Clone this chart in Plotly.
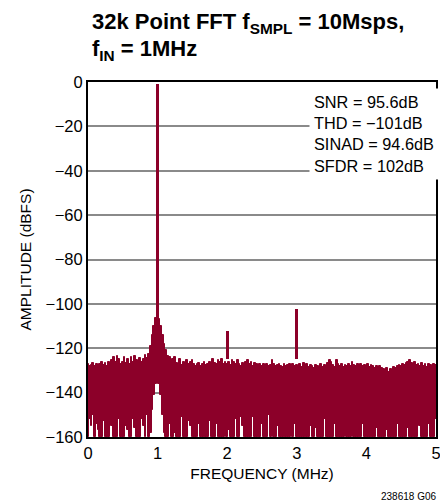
import plotly.graph_objects as go

# ---- data -------------------------------------------------------------
freq_step = 0.025  # MHz between noise bins
# upper envelope of the noise floor (dBFS), 0 .. 5 MHz every 0.025 MHz
noise_top = [
    -127, -128, -127.5, -126.5, -128, -127, -128.5, -127, -126, -127.5,
    -126.5, -128, -126, -127, -125.5, -124, -126, -123.5, -125, -127,
    -126, -124, -126.5, -125, -127, -124, -126, -123.5, -125.5, -126,
    -124.5, -126, -125, -123, -124.5, -122.5, -119, -114, -110, -106.5,
    -104.5,
    -107, -110, -114, -118, -121, -123.5, -124, -126, -125,
    -124, -126.5, -127, -125, -127.5, -126, -127, -125.5, -127, -126,
    -125.5, -127, -128, -127, -126.5, -128, -127, -126, -127.5, -127,
    -126, -127, -125, -126.5, -127, -125.5, -126, -125, -127, -126,
    -127, -126, -127.5, -125.5, -126, -127, -125.5, -127, -128, -126.5,
    -127, -126, -125.5, -127, -126, -128, -126.5, -127, -128, -127,
    -128, -127, -128.5, -127, -128, -127.5, -125.5, -127, -128, -127.5,
    -127, -128, -128.5, -127, -128, -127.5, -127, -128, -127, -128,
    -127.5, -128, -127, -128.5, -126.5, -128, -127, -128.5, -127.5, -128,
    -129, -127.5, -128, -129, -127, -128.5, -127.5, -128, -126.5, -125.5,
    -126, -127.5, -128.5, -125.5, -127, -128, -127, -128.5, -127.5, -128,
    -127, -128, -126, -127.5, -128, -127, -128.5, -127, -128, -127.5,
    -128, -127, -128.5, -127.5, -128, -129, -128, -129.5, -128, -129,
    -129.5, -130, -129, -130.5, -129.5, -130, -128.5, -129, -128, -127.5,
    -128, -127, -127.5, -126.5, -126, -125.5, -126.5, -127, -126, -127.5,
    -127, -128, -126.5, -128, -127, -128.5, -127, -127.5, -128, -127,
    -127.5,
]
# lower envelope of the noise floor (dBFS), same bins
noise_bottom = [
    -160, -152, -155, -150, -160, -154, -157, -160, -160, -153,
    -160, -160, -160, -151, -155, -160, -160, -160, -152, -160,
    -160, -160, -155, -157, -160, -160, -152, -156, -160, -160,
    -160, -152, -155, -160, -150, -160, -158, -148, -141, -136,
    -133,
    -136, -141, -150, -158, -160, -160, -154, -160, -160,
    -158, -160, -160, -160, -151, -160, -160, -160, -153, -155,
    -160, -160, -160, -160, -154, -160, -160, -160, -160, -160,
    -153, -160, -160, -160, -154, -160, -160, -160, -160, -153,
    -160, -157, -160, -160, -160, -152, -160, -160, -151, -155,
    -160, -160, -160, -160, -160, -151, -160, -160, -160, -160,
    -154, -160, -160, -160, -150, -160, -153, -160, -160, -155,
    -160, -160, -160, -160, -160, -160, -160, -154, -160, -154,
    -160, -160, -160, -160, -160, -160, -160, -160, -155, -160,
    -160, -156, -160, -160, -160, -160, -152, -160, -160, -160,
    -160, -160, -154, -160, -160, -160, -160, -160, -152, -160,
    -160, -160, -150, -160, -160, -160, -160, -160, -154, -160,
    -160, -160, -160, -160, -160, -160, -156, -160, -160, -160,
    -160, -160, -157, -160, -160, -160, -160, -160, -154, -160,
    -160, -160, -160, -160, -156, -160, -160, -160, -160, -160,
    -154, -155, -160, -160, -160, -160, -154, -160, -160, -160,
    -152,
]
noise_freqs = [i * freq_step for i in range(len(noise_top))]

# discrete tones: fundamental and harmonics
tone_freqs = [1.0, 2.0, 3.0]
tone_levels = [-1, -112, -102.5]
tone_floor = -125

title_line1 = "32k Point FFT f<sub>SMPL</sub> = 10Msps,"
title_line2 = "f<sub>IN</sub> = 1MHz"
stats_lines = ["SNR = 95.6dB", "THD = \u2212101dB", "SINAD = 94.6dB", "SFDR = 102dB"]
y_ticks = [0, -20, -40, -60, -80, -100, -120, -140, -160]
x_ticks = [0, 1, 2, 3, 4, 5]

# ---- figure -----------------------------------------------------------
RED = "#8C0029"
FONT = "Liberation Sans, Arial, sans-serif"

fig = go.Figure()
fig.add_trace(go.Bar(
    x=noise_freqs,
    y=[t - b for t, b in zip(noise_top, noise_bottom)],
    base=noise_bottom,
    width=freq_step,
    marker=dict(color=RED, line=dict(color=RED, width=1)),
    hoverinfo="skip",
))
fig.add_trace(go.Bar(
    x=tone_freqs,
    y=[lv - tone_floor for lv in tone_levels],
    base=[tone_floor] * len(tone_freqs),
    width=0.04,
    marker=dict(color=RED, line=dict(width=0)),
    hoverinfo="skip",
))

# page body has an 8px margin, so the figure is 8px smaller each way
fig.update_layout(
    width=440, height=496,
    margin=dict(l=80, r=7, t=74, b=67),
    paper_bgcolor="white", plot_bgcolor="white",
    showlegend=False,
    barmode="overlay", bargap=0,
    font=dict(family=FONT, size=16, color="black"),
    xaxis=dict(
        range=[0, 5], tickvals=x_ticks, ticks="", showgrid=False,
        showline=True, linecolor="black", linewidth=2, mirror=True,
        tickfont=dict(size=16.5), zeroline=False,
        title=dict(text="FREQUENCY (MHz)", font=dict(size=15.5), standoff=7),
    ),
    yaxis=dict(
        range=[-160, 0], tickvals=y_ticks, ticks="",
        showgrid=True, gridcolor="#8a8a8a", gridwidth=1.5,
        showline=True, linecolor="black", linewidth=2, mirror=True,
        tickfont=dict(size=16.5), zeroline=False,
        title=dict(text="AMPLITUDE (dBFS)", font=dict(size=15.5), standoff=10),
    ),
)

for txt, ypos in ((title_line1, 1.166), (title_line2, 1.09)):
    fig.add_annotation(
        text=txt, xref="paper", yref="paper", x=0.005, y=ypos,
        xanchor="left", yanchor="middle", showarrow=False,
        font=dict(family=FONT, size=22, color="black", weight="bold"),
    )

fig.add_annotation(
    text="<br>".join(stats_lines),
    xref="x", yref="y", x=3.18, y=-2.5,
    xanchor="left", yanchor="top", align="left",
    showarrow=False, bgcolor="white", borderpad=4,
    font=dict(family=FONT, size=16.3, color="black"),
)
fig.add_annotation(
    text="238618 G06",
    xref="paper", yref="paper", x=1.006, y=-0.169,
    xanchor="right", yanchor="middle", showarrow=False,
    font=dict(family=FONT, size=10, color="black"),
)

fig.write_html("out.html")
